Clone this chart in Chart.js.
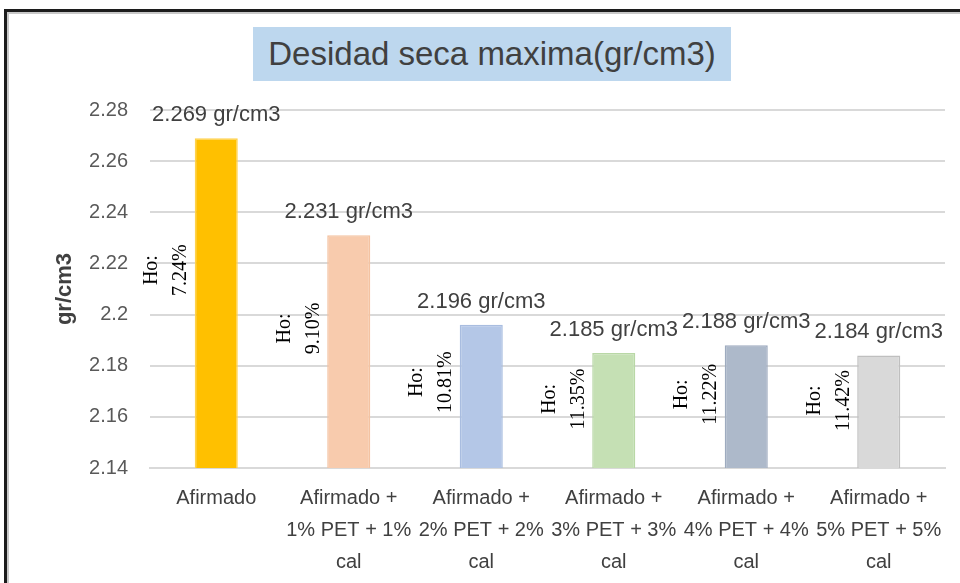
<!DOCTYPE html>
<html>
<head>
<meta charset="utf-8">
<script src="https://cdn.jsdelivr.net/npm/chart.js@4.4.1/dist/chart.umd.min.js"></script>
<style>
    body { margin: 0; background: #ffffff; overflow: hidden; }
    #frame { position: absolute; left: 4px; top: 9px; width: 980px; height: 600px;
             border: 3px solid #1c1c1c; box-shadow: inset 2px 2px 0 #c8c8c8; }
    #title { position: absolute; left: 253px; top: 27px; width: 478px; height: 54px;
             background: #bdd7ee; color: #404040; font: 33px "Liberation Sans", Arial, sans-serif;
             line-height: 54px; text-align: center; }
    #wrap { position: absolute; left: 0; top: 0; width: 960px; height: 583px; }
</style>
</head>
<body>
<div id="frame"></div>
<div id="wrap"><canvas id="grafico" width="960" height="583"></canvas></div>
<div id="title">Desidad seca maxima(gr/cm3)</div>
<script>
// categories on the x axis (each line of the label is one entry)
var categorias = [
    ["Afirmado"],
    ["Afirmado +", "1% PET + 1%", "cal"],
    ["Afirmado +", "2% PET + 2%", "cal"],
    ["Afirmado +", "3% PET + 3%", "cal"],
    ["Afirmado +", "4% PET + 4%", "cal"],
    ["Afirmado +", "5% PET + 5%", "cal"]
];

// maximum dry density, gr/cm3
var densidad = [2.269, 2.231, 2.196, 2.185, 2.188, 2.184];

// optimum moisture (Ho), %
var humedad = [7.24, 9.10, 10.81, 11.35, 11.22, 11.42];

// y axis range
var yMin = 2.14;
var yMax = 2.28;
var yStep = 0.02;

var colores = ['#ffc000', '#f8cbad', '#b4c7e7', '#c5e0b4', '#adb9ca', '#d9d9d9'];
var bordes = ['#ffd24d', '#f4c3a2', '#a9bde0', '#b9d8a6', '#9eabbf', '#bfbfbf'];

// writes the density value above every bar and the rotated Ho label at its left
var etiquetas = {
    id: 'etiquetas',
    afterDraw: function (chart) {
        var ctx = chart.ctx;
        var meta = chart.getDatasetMeta(0);
        var fondo = chart.scales.y.getPixelForValue(yMin);
        meta.data.forEach(function (bar, i) {
            var p = bar.getProps(['x', 'y', 'width'], true);
            ctx.save();
            ctx.fillStyle = '#404040';
            ctx.font = '22px "Liberation Sans", Arial, sans-serif';
            ctx.textAlign = 'center';
            ctx.textBaseline = 'alphabetic';
            ctx.fillText(densidad[i].toFixed(3) + ' gr/cm3', p.x, p.y - 17);
            ctx.restore();

            var izq = p.x - p.width / 2;
            var cy = fondo - 0.6 * (fondo - p.y);
            ctx.save();
            ctx.translate(izq - 28, cy);
            ctx.rotate(-Math.PI / 2);
            ctx.fillStyle = '#000000';
            ctx.font = '20px "Liberation Serif", "Times New Roman", serif';
            ctx.textAlign = 'center';
            ctx.textBaseline = 'middle';
            ctx.fillText('Ho:', 0, -14.5);
            ctx.fillText(humedad[i].toFixed(2) + '%', 0, 14.5);
            ctx.restore();
        });
    }
};

var ctx = document.getElementById('grafico').getContext('2d');
var chart = new Chart(ctx, {
    type: 'bar',
    data: {
        labels: categorias,
        datasets: [{
            label: 'Densidad seca maxima',
            data: densidad,
            backgroundColor: colores,
            borderColor: bordes,
            borderWidth: 1.5,
            barPercentage: 0.325,
            categoryPercentage: 1
        }]
    },
    options: {
        responsive: false,
        animation: false,
        layout: {
            padding: { left: 0, right: 15, top: 110, bottom: 0 }
        },
        plugins: {
            legend: { display: false },
            tooltip: { enabled: false }
        },
        scales: {
            x: {
                grid: { display: false, drawTicks: false },
                border: { color: '#d9d9d9', width: 2 },
                ticks: {
                    color: '#404040',
                    padding: 14,
                    autoSkip: false,
                    maxRotation: 0,
                    font: { family: '"Liberation Sans", Arial, sans-serif', size: 20, lineHeight: 1.6 }
                },
                afterFit: function (scale) { scale.height = 115; }
            },
            y: {
                min: yMin,
                max: yMax,
                grid: { color: '#d9d9d9', lineWidth: 2, drawTicks: false },
                border: { display: false },
                ticks: {
                    stepSize: yStep,
                    padding: 22,
                    color: '#595959',
                    font: { family: '"Liberation Sans", Arial, sans-serif', size: 20 },
                    callback: function (v) { return String(+v.toFixed(2)); }
                },
                title: {
                    display: true,
                    text: 'gr/cm3',
                    color: '#404040',
                    padding: { top: 52, bottom: 0 },
                    font: { family: '"Liberation Sans", Arial, sans-serif', size: 22, weight: 'bold' }
                },
                afterFit: function (scale) { scale.width = 150; }
            }
        }
    },
    plugins: [etiquetas]
});
</script>
</body>
</html>
